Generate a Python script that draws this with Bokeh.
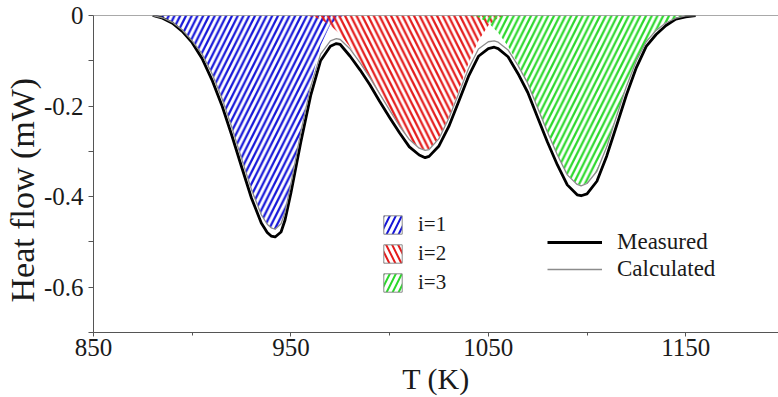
import numpy as np
from bokeh.plotting import figure
from bokeh.models import (ColumnDataSource, Legend, LegendItem, Span, Title,
                          FixedTicker, Range1d)
from bokeh.embed import file_html
from bokeh.resources import INLINE

# ---- data: DSC heat flow (mW) vs temperature (K) ----
temp = [880, 885, 890, 895, 900, 905, 910, 915, 920, 925, 930, 935, 938, 940,
        942, 945, 947, 950, 955, 960, 965, 970, 973, 975, 980, 985, 990, 995,
        1000, 1005, 1010, 1015, 1018, 1020, 1025, 1030, 1035, 1040, 1045,
        1050, 1053, 1055, 1060, 1065, 1070, 1075, 1080, 1085, 1090, 1095,
        1097, 1100, 1105, 1110, 1115, 1120, 1125, 1130, 1135, 1140, 1145,
        1150, 1155]

measured = [0, -0.006, -0.017, -0.035, -0.060, -0.095, -0.142, -0.198, -0.264,
            -0.334, -0.403, -0.458, -0.479, -0.487, -0.489, -0.478, -0.452,
            -0.392, -0.280, -0.177, -0.100, -0.068, -0.062, -0.064, -0.090,
            -0.120, -0.153, -0.190, -0.225, -0.259, -0.290, -0.308, -0.314,
            -0.311, -0.288, -0.245, -0.190, -0.134, -0.090, -0.073, -0.070,
            -0.073, -0.091, -0.128, -0.170, -0.225, -0.280, -0.330, -0.374,
            -0.396, -0.398, -0.394, -0.366, -0.310, -0.243, -0.175, -0.115,
            -0.068, -0.042, -0.022, -0.008, -0.003, 0]

calculated = [0, -0.005, -0.015, -0.032, -0.056, -0.085, -0.128, -0.182, -0.246,
              -0.316, -0.384, -0.440, -0.461, -0.469, -0.472, -0.460, -0.435,
              -0.372, -0.258, -0.157, -0.086, -0.056, -0.051, -0.053, -0.074,
              -0.104, -0.137, -0.173, -0.209, -0.244, -0.274, -0.293, -0.298,
              -0.296, -0.272, -0.227, -0.172, -0.117, -0.074, -0.058, -0.056,
              -0.059, -0.076, -0.110, -0.150, -0.204, -0.258, -0.308, -0.352,
              -0.373, -0.376, -0.371, -0.344, -0.290, -0.222, -0.156, -0.100,
              -0.058, -0.033, -0.016, -0.006, -0.001, 0]

# deconvoluted contributions i = 1, 2, 3
temp_1 = [878, 880, 885, 890, 895, 900, 905, 910, 915, 920, 925, 930, 935, 938,
          940, 942, 945, 947, 950, 955, 960, 965, 970, 975, 980]
peak_1 = [0, 0, -0.005, -0.015, -0.032, -0.056, -0.085, -0.128, -0.182, -0.246,
          -0.316, -0.384, -0.440, -0.461, -0.469, -0.472, -0.460, -0.435,
          -0.372, -0.256, -0.150, -0.066, -0.020, -0.003, 0]

temp_2 = [958, 960, 965, 970, 975, 980, 985, 990, 995, 1000, 1005, 1010, 1015,
          1018, 1020, 1025, 1030, 1035, 1040, 1045, 1050, 1055, 1060]
peak_2 = [0, -0.002, -0.008, -0.022, -0.042, -0.070, -0.102, -0.137, -0.173,
          -0.209, -0.244, -0.273, -0.292, -0.297, -0.295, -0.270, -0.224,
          -0.165, -0.105, -0.056, -0.022, -0.005, 0]

temp_3 = [1040, 1045, 1050, 1055, 1060, 1065, 1070, 1075, 1080, 1085, 1090,
          1095, 1097, 1100, 1105, 1110, 1115, 1120, 1125, 1130, 1135, 1140,
          1145, 1150, 1155]
peak_3 = [0, -0.004, -0.016, -0.038, -0.068, -0.106, -0.150, -0.204, -0.258,
          -0.308, -0.351, -0.372, -0.375, -0.370, -0.343, -0.289, -0.221,
          -0.155, -0.099, -0.057, -0.032, -0.015, -0.006, -0.001, 0]

component_labels = ["i=1", "i=2", "i=3"]
component_colors = ["#1515d8", "#e41b1b", "#2bd82b"]
component_hatch = ["/", "\\", "/"]

x_ticks = [850, 950, 1050, 1150]
x_minor = [900, 1000, 1100, 1200]
y_ticks = [0, -0.2, -0.4, -0.6]
y_tick_labels = ["0", "-0.2", "-0.4", "-0.6"]
y_minor = [-0.1, -0.3, -0.5, -0.7]

FONT = "Liberation Serif"
INK = "#1a1a1a"
AXIS = "#555555"

p = figure(width=778, height=397, output_backend="svg", toolbar_location=None,
           x_range=Range1d(850, 1197), y_range=Range1d(-0.7, 0),
           min_border_left=93, min_border_right=0, min_border_top=15,
           min_border_bottom=65)
p.outline_line_color = None
p.xgrid.visible = False
p.ygrid.visible = False
p.background_fill_color = "white"

# hatched contributions, plus legend stand-ins that carry a border
comp_sources = [(temp_1, peak_1), (temp_2, peak_2), (temp_3, peak_3)]
legend_swatches = []
for (tt, vv), col, hatch in zip(comp_sources, component_colors, component_hatch):
    src = ColumnDataSource(dict(t=tt, v=vv))
    p.varea(x="t", y1=0, y2="v", source=src, fill_alpha=0,
            hatch_pattern=hatch, hatch_color=col, hatch_weight=2.2,
            hatch_scale=11.5)
    swatch = p.quad(left=[np.nan], right=[np.nan], top=[np.nan],
                    bottom=[np.nan], fill_alpha=0, hatch_pattern=hatch,
                    hatch_color=col, hatch_weight=2, hatch_scale=12,
                    line_color="#8a8a8a", line_width=1)
    legend_swatches.append(swatch)

# baseline at zero
p.add_layout(Span(location=0, dimension="width", line_color=AXIS,
                  line_width=1))

curve_src = ColumnDataSource(dict(t=temp, m=measured, c=calculated))
r_meas = p.line("t", "m", source=curve_src, line_color="black", line_width=2.8,
                line_join="round")
r_calc = p.line("t", "c", source=curve_src, line_color="#8c8c8c", line_width=1.3,
                line_join="round")

# axes
for ax in (p.xaxis[0], p.yaxis[0]):
    ax.axis_line_color = AXIS
    ax.major_tick_line_color = AXIS
    ax.minor_tick_line_color = AXIS
    ax.major_tick_in = 0
    ax.minor_tick_in = 0
    ax.major_label_text_font = FONT
    ax.major_label_text_font_size = "25px"
    ax.major_label_text_color = INK
    ax.axis_label_text_font = FONT
    ax.axis_label_text_font_style = "normal"
    ax.axis_label_text_color = INK

p.xaxis.ticker = FixedTicker(ticks=x_ticks, minor_ticks=x_minor)
p.xaxis.major_tick_out = 4
p.xaxis.minor_tick_out = 3
p.xaxis.major_label_standoff = 2
p.xaxis.axis_label = "T (K)"
p.xaxis.axis_label_text_font_size = "30px"
p.xaxis.axis_label_standoff = 3

p.yaxis.ticker = FixedTicker(ticks=y_ticks, minor_ticks=y_minor)
p.yaxis.major_label_overrides = dict(zip(y_ticks, y_tick_labels))
p.yaxis.major_tick_out = 5
p.yaxis.minor_tick_out = 5
p.yaxis.major_label_standoff = 5

# vertical title, anchored from the bottom of the plotting area
p.add_layout(Title(text="Heat flow (mW)", align="left", offset=30, standoff=0,
                   text_font=FONT, text_font_size="34px",
                   text_font_style="normal", text_color=INK), "left")

# legends
leg1 = Legend(items=[LegendItem(label=lab, renderers=[r])
                     for lab, r in zip(component_labels, legend_swatches)],
              location=(288, 37), glyph_width=23, glyph_height=23,
              label_height=23, spacing=4, label_standoff=14, padding=0,
              margin=0, border_line_alpha=0, background_fill_alpha=0,
              label_text_font=FONT, label_text_font_size="21px",
              label_text_color=INK)
leg2 = Legend(items=[LegendItem(label="Measured", renderers=[r_meas]),
                     LegendItem(label="Calculated", renderers=[r_calc])],
              location=(454, 50), glyph_width=55, glyph_height=24,
              label_height=24, spacing=1, label_standoff=15, padding=0,
              margin=0, border_line_alpha=0, background_fill_alpha=0,
              label_text_font=FONT, label_text_font_size="23px",
              label_text_color=INK)
p.add_layout(leg1)
p.add_layout(leg2)

open("out.html", "w").write(file_html(p, INLINE))
